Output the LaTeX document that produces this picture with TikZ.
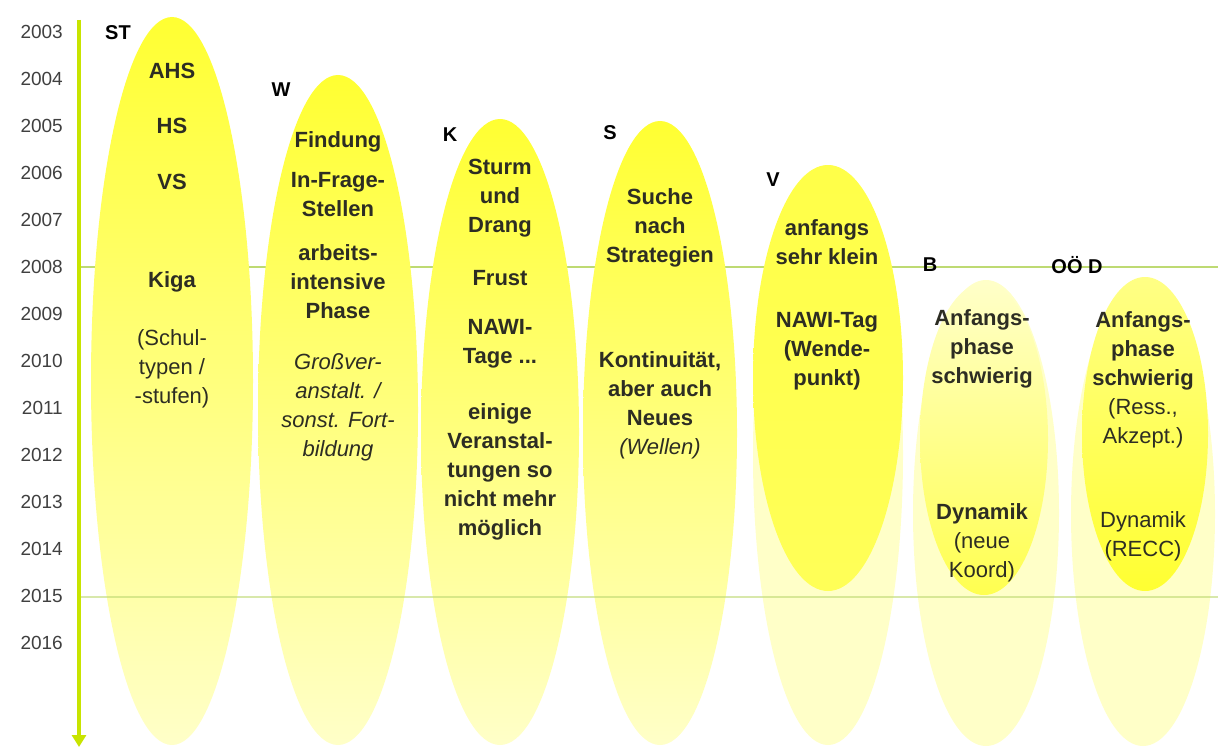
\documentclass[tikz,border=0pt]{standalone}
\usepackage{fontspec}
\setmainfont{Liberation Sans}
\usetikzlibrary{arrows.meta}
\definecolor{yel}{RGB}{255,255,50}
\definecolor{pale}{RGB}{255,255,200}
\definecolor{axisc}{RGB}{200,228,0}
\definecolor{gridc}{RGB}{190,218,115}
\definecolor{txt}{RGB}{45,45,35}
\begin{document}
\begin{tikzpicture}[x=1pt,y=-1pt,
  yr/.style={anchor=east, font=\fontsize{19}{22}\selectfont, text=black!75, inner sep=0},
  lbl/.style={font=\fontsize{20}{24}\selectfont\bfseries, text=black, inner sep=0},
  txtb/.style={align=center, anchor=base, inner sep=0, text=txt, font=\fontsize{22}{29}\selectfont\bfseries},
  txtr/.style={align=center, anchor=base, inner sep=0, text=txt, font=\fontsize{22}{29}\selectfont},
  txti/.style={align=center, anchor=base, inner sep=0, text=txt, font=\fontsize{22}{29}\selectfont\itshape},
  gridline/.style={gridc, line width=2pt},
]
\fill[white] (0,0) rectangle (1218,749);
\useasboundingbox (0,0) rectangle (1218,749);

% grid line 2008 (behind)
\coordinate (g8a) at (79,267);
\coordinate (g8b) at (1218,267);
\draw[gridline] (g8a) -- (g8b);

% columns
\shade[top color=yel, middle color=yel!60!pale, bottom color=pale] (172,381) ellipse [x radius=81, y radius=364];
\shade[top color=yel, middle color=yel!65!pale, bottom color=pale] (338,410) ellipse [x radius=80, y radius=335];
\shade[top color=yel, middle color=yel!80!pale, bottom color=pale] (500,432) ellipse [x radius=79, y radius=313];
\shade[top color=yel, middle color=yel!60!pale, bottom color=pale] (660,433) ellipse [x radius=77, y radius=312];
% V
\fill[pale] (828,455) ellipse [x radius=75, y radius=290];
\shade[top color=yel!85!pale, middle color=yel, bottom color=yel!75!pale] (828,378) ellipse [x radius=75, y radius=213];
% B
\fill[pale] (986,513) ellipse [x radius=73, y radius=233];
\shade[top color=pale, bottom color=yel!80!pale] (984,439) ellipse [x radius=64, y radius=156];
% OOe D
\fill[pale] (1143,514) ellipse [x radius=72, y radius=232];
\shade[top color=yel!45!pale, bottom color=yel] (1145,434) ellipse [x radius=63, y radius=157];

% grid line 2015 (over)
\coordinate (g15a) at (79,597);
\coordinate (g15b) at (1218,597);
\draw[gridline, opacity=0.6, line width=1.5pt] (g15a) -- (g15b);

% axis
\coordinate (axtop) at (79,20);
\coordinate (axbot) at (79,747);
\draw[axisc, line width=4pt, -{Triangle[width=14pt,length=12pt]}] (axtop) -- (axbot);

% years
\foreach \yr [count=\i from 0] in {2003,...,2016}{
  \node[yr] (y\yr) at (63,{32+47*\i}) {\yr};
}

% column labels
\node[lbl] (lST) at (118,33) {ST};
\node[lbl] (lW) at (281,90) {W};
\node[lbl] (lK) at (450,135) {K};
\node[lbl] (lS) at (610,133) {S};
\node[lbl] (lV) at (773,180) {V};
\node[lbl] (lB) at (930,265) {B};
\node[lbl] (lOD) at (1077,265) {OÖ D};

% ST  (anchor base = last line baseline)
\node[txtb] (st1) at (172,79) {AHS};
\node[txtb] (st2) at (172,134) {HS};
\node[txtb] (st3) at (172,189) {VS};
\node[txtb] (st4) at (172,287) {Kiga};
\node[txtr] (st5) at (172,403) {(Schul-\\typen /\\-stufen)};

% W
\node[txtb] (w1) at (338,147) {Findung};
\node[txtb] (w2) at (338,216) {In-Frage-\\Stellen};
\node[txtb] (w3) at (338,318) {arbeits-\\intensive\\Phase};
\node[txti] (w4) at (338,456) {Großver-\\anstalt. /\\sonst. Fort-\\bildung};

% K
\node[txtb] (k1) at (500,232) {Sturm\\und\\Drang};
\node[txtb] (k2) at (500,285) {Frust};
\node[txtb] (k3) at (500,363) {NAWI-\\Tage ...};
\node[txtb] (k4) at (500,535) {einige\\Veranstal-\\tungen so\\nicht mehr\\möglich};

% S
\node[txtb] (s1) at (660,262) {Suche\\nach\\Strategien};
\node[txtb] (s2) at (660,425) {Kontinuität,\\aber auch\\Neues};
\node[txti] (s3) at (660,454) {(Wellen)};

% V
\node[txtb] (v1) at (827,264) {anfangs\\sehr klein};
\node[txtb] (v2) at (827,385) {NAWI-Tag\\(Wende-\\punkt)};

% B
\node[txtb] (b1) at (982,383) {Anfangs-\\phase\\schwierig};
\node[txtb] (b2) at (982,519) {Dynamik};
\node[txtr] (b3) at (982,577) {(neue\\Koord)};

% OOe D
\node[txtb] (d1) at (1143,385) {Anfangs-\\phase\\schwierig};
\node[txtr] (d2) at (1143,443) {(Ress.,\\Akzept.)};
\node[txtr] (d3) at (1143,556) {Dynamik\\(RECC)};
\end{tikzpicture}
\end{document}
